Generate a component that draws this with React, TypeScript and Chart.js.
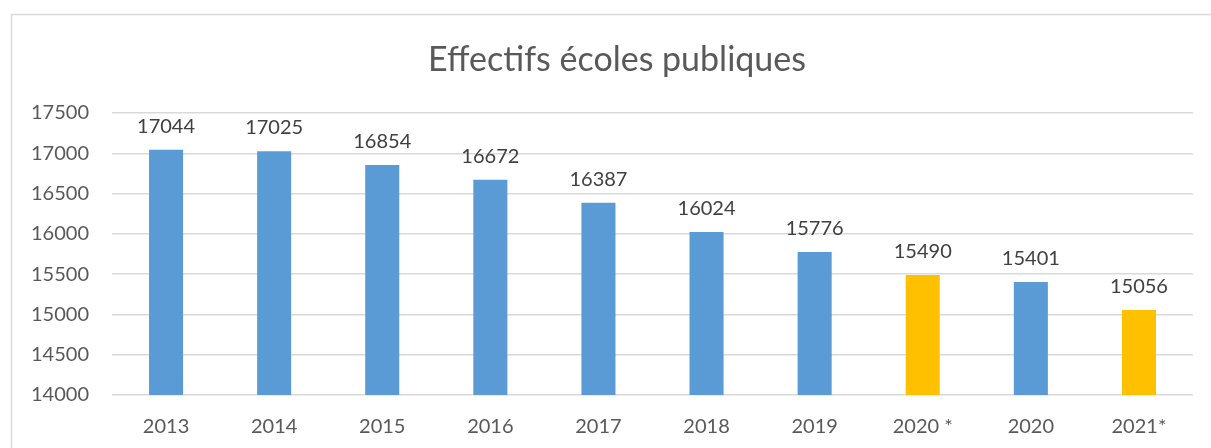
import React, { useEffect, useRef } from "react";
import { Chart, registerables } from "chart.js";

Chart.register(...registerables);

const categories = ["2013", "2014", "2015", "2016", "2017", "2018", "2019", "2020 *", "2020", "2021*"];
const values = [17044, 17025, 16854, 16672, 16387, 16024, 15776, 15490, 15401, 15056];
const barColors = ["#5B9BD5", "#5B9BD5", "#5B9BD5", "#5B9BD5", "#5B9BD5", "#5B9BD5", "#5B9BD5", "#FFC000", "#5B9BD5", "#FFC000"];
const yMin = 14000;
const yMax = 17500;
const yStep = 500;
const titleText = "Effectifs écoles publiques";

const FONT = "Lato, 'Open Sans', sans-serif";

const decorPlugin = {
  id: "decor",
  beforeDraw(chart: any) {
    const ctx = chart.ctx;
    ctx.save();
    ctx.strokeStyle = "#d9d9d9";
    ctx.lineWidth = 1.5;
    ctx.strokeRect(11.5, 14.5, 2000, 1000);
    ctx.restore();
  },
  afterDatasetsDraw(chart: any) {
    const ctx = chart.ctx;
    ctx.save();
    ctx.fillStyle = "#595959";
    ctx.font = `34px ${FONT}`;
    ctx.textAlign = "center";
    ctx.textBaseline = "alphabetic";
    ctx.fillText(titleText, 617, 71);
    const meta = chart.getDatasetMeta(0);
    ctx.fillStyle = "#404040";
    ctx.font = `20px ${FONT}`;
    meta.data.forEach((bar: any, i: number) => {
      ctx.fillText(String(values[i]), bar.x, bar.y - 17);
    });
    ctx.restore();
  },
};

export default function App() {
  const ref = useRef<HTMLCanvasElement>(null);
  useEffect(() => {
    if (!ref.current) return;
    const chart = new Chart(ref.current, {
      type: "bar",
      data: {
        labels: categories,
        datasets: [
          {
            data: values,
            backgroundColor: barColors,
            barPercentage: 0.63,
            categoryPercentage: 0.5,
          },
        ],
      },
      options: {
        animation: false,
        responsive: false,
        layout: { padding: { left: 12, right: 18, top: 113, bottom: 0 } },
        plugins: {
          legend: { display: false },
          tooltip: { enabled: false },
          title: { display: false },
        },
        scales: {
          x: {
            grid: { display: false, drawTicks: false },
            border: { display: false },
            ticks: { color: "#595959", font: { family: FONT, size: 20 }, padding: 20, maxRotation: 0 },
            afterFit(scale: any) {
              scale.height = 53;
            },
          },
          y: {
            min: yMin,
            max: yMax,
            grid: { color: "#d9d9d9", lineWidth: 1.5, drawTicks: false },
            border: { display: false },
            ticks: {
              stepSize: yStep,
              color: "#595959",
              font: { family: FONT, size: 20 },
              padding: 23,
              callback: (v: any) => String(v),
            },
            afterFit(scale: any) {
              scale.width = 100;
            },
          },
        },
      },
      plugins: [decorPlugin],
    });
    return () => chart.destroy();
  }, []);
  return (
    <div style={{ position: "fixed", left: 0, top: 0, width: 1211, height: 448, background: "#fff", overflow: "hidden" }}>
      <canvas ref={ref} width={1211} height={448} style={{ display: "block" }} />
    </div>
  );
}
